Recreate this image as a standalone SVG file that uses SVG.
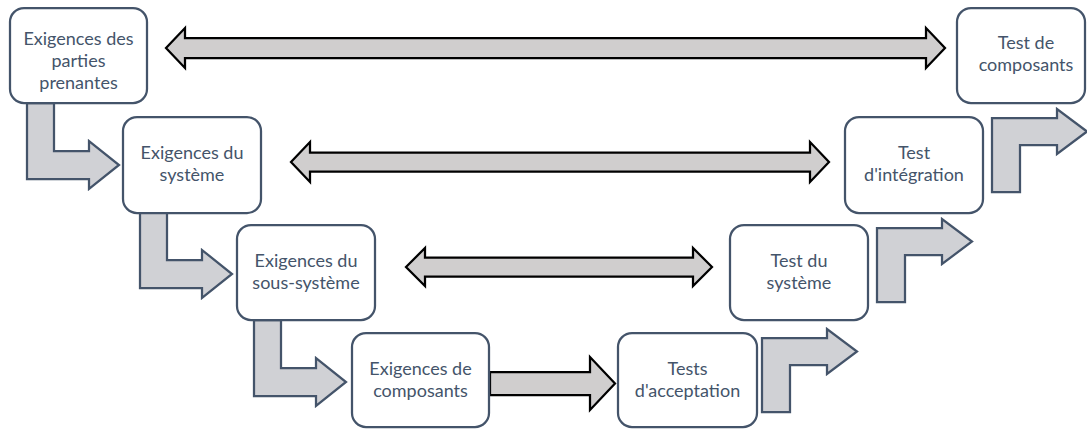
<svg xmlns="http://www.w3.org/2000/svg" width="1087" height="429" viewBox="0 0 1087 429">
  <style>
    .box { fill: #ffffff; stroke: #44546A; stroke-width: 2.25; }
    .lbl { font-family: Lato, "Open Sans", "Liberation Sans", sans-serif; font-size: 18px; fill: #44546A; text-anchor: middle; }
    .flow { fill: #D0D1D5; stroke: #44546A; stroke-width: 2.25; stroke-linejoin: miter; }
    .link { fill: #D0CECE; stroke: #000000; stroke-width: 2.25; stroke-linejoin: miter; }
  </style>
  <rect width="1087" height="429" fill="#ffffff"/>

  <g id="connectors">
    <!-- bent flow arrows, descending side -->
    <path class="flow" d="M27,103 L54,103 L54,151 L89,151 L89,141 L119,165 L89,189 L89,179 L27,179 Z"/>
    <path class="flow" d="M140,212 L167,212 L167,260 L202,260 L202,250 L232,274 L202,298 L202,288 L140,288 Z"/>
    <path class="flow" d="M254,320 L281,320 L281,368 L316,368 L316,358 L346,382 L316,406 L316,396 L254,396 Z"/>
    <!-- bent flow arrows, ascending side -->
    <path class="flow" d="M762,412 L762,338 L827,338 L827,329 L857,351.5 L827,374 L827,365 L790,365 L790,412 Z"/>
    <path class="flow" d="M877,302 L877,228 L942,228 L942,219 L972,241.5 L942,264 L942,255 L905,255 L905,302 Z"/>
    <path class="flow" d="M992,192 L992,118 L1057,118 L1057,109 L1087,131.5 L1057,154 L1057,145 L1020,145 L1020,192 Z"/>
    <!-- two-way links between matching levels -->
    <path class="link" d="M166,48 L185,28 L185,38 L926,38 L926,28 L945,48 L926,68 L926,58 L185,58 L185,68 Z"/>
    <path class="link" d="M291,162 L310,142 L310,152.5 L810,152.5 L810,142 L829,162 L810,182 L810,171.5 L310,171.5 L310,182 Z"/>
    <path class="link" d="M406,267 L425,248 L425,257.5 L693,257.5 L693,248 L712,267 L693,286 L693,276.5 L425,276.5 L425,286 Z"/>
    <!-- bottom link -->
    <path class="link" d="M490,372 L590,372 L590,357 L615,383.5 L590,410 L590,395 L490,395 Z"/>
  </g>

  <g id="node-parties-prenantes">
    <rect class="box" x="10" y="8" width="137" height="95" rx="14"/>
    <text class="lbl" x="78.5" y="45">Exigences des</text>
    <text class="lbl" x="78.5" y="67">parties</text>
    <text class="lbl" x="78.5" y="89">prenantes</text>
  </g>
  <g id="node-systeme">
    <rect class="box" x="123" y="117" width="138" height="96" rx="14"/>
    <text class="lbl" x="192" y="159">Exigences du</text>
    <text class="lbl" x="192" y="181">système</text>
  </g>
  <g id="node-sous-systeme">
    <rect class="box" x="237" y="225" width="138" height="95" rx="14"/>
    <text class="lbl" x="306" y="267">Exigences du</text>
    <text class="lbl" x="306" y="289">sous-système</text>
  </g>
  <g id="node-composants">
    <rect class="box" x="352" y="333" width="137" height="94" rx="14"/>
    <text class="lbl" x="420.5" y="375">Exigences de</text>
    <text class="lbl" x="420.5" y="397">composants</text>
  </g>
  <g id="node-acceptation">
    <rect class="box" x="618" y="333" width="139" height="94" rx="14"/>
    <text class="lbl" x="687.5" y="375">Tests</text>
    <text class="lbl" x="687.5" y="397">d'acceptation</text>
  </g>
  <g id="node-test-systeme">
    <rect class="box" x="730" y="225" width="138" height="95" rx="14"/>
    <text class="lbl" x="799" y="267">Test du</text>
    <text class="lbl" x="799" y="289">système</text>
  </g>
  <g id="node-integration">
    <rect class="box" x="845" y="117" width="138" height="96" rx="14"/>
    <text class="lbl" x="914" y="159">Test</text>
    <text class="lbl" x="914" y="181">d'intégration</text>
  </g>
  <g id="node-test-composants">
    <rect class="box" x="957" y="8" width="128" height="95" rx="14"/>
    <text class="lbl" x="1026" y="49">Test de</text>
    <text class="lbl" x="1026" y="71">composants</text>
  </g>
</svg>
